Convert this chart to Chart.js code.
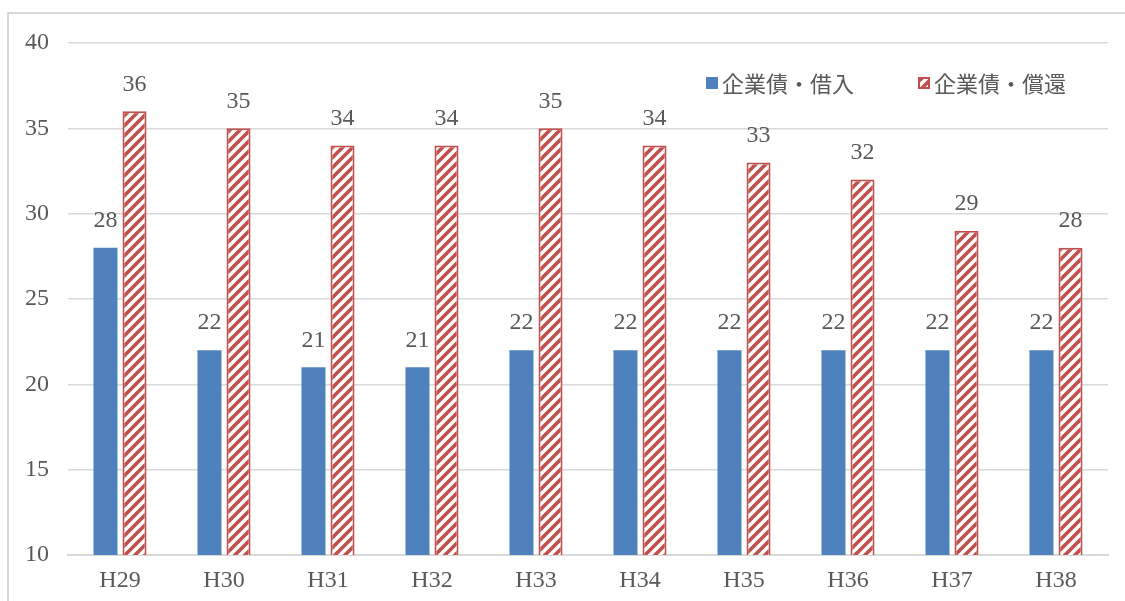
<!DOCTYPE html>
<html><head><meta charset="utf-8">
<script src="https://cdn.jsdelivr.net/npm/chart.js@4.4.1/dist/chart.umd.min.js"></script>
<style>
html,body{margin:0;padding:0;background:#fff;overflow:hidden}
#wrap{position:relative;width:1125px;height:601px}
#frame{position:absolute;left:7px;top:12px;width:1200px;height:700px;border-left:2px solid #d9d9d9;border-top:2px solid #d9d9d9;box-sizing:border-box}
canvas{position:absolute;left:0;top:0}
</style></head>
<body><div id="wrap"><div id="frame"></div><canvas id="c" width="1125" height="601"></canvas></div>
<script>
const categories = ['H29','H30','H31','H32','H33','H34','H35','H36','H37','H38'];
const borrowValues = [28,22,21,21,22,22,22,22,22,22];
const repayValues = [36,35,34,34,35,34,33,32,29,28];
const seriesLabels = ['企業債・借入','企業債・償還'];
const yTicks = [10,15,20,25,30,35,40];

const BLUE = '#4F81BD', RED = '#C0504D', TXT = '#595959', GRID = '#d9d9d9';
const NUMFONT = '"Liberation Serif", "DejaVu Serif", serif';
const JPFONT = '"Noto Sans CJK JP", sans-serif';

function makePattern(){
  const t = document.createElement('canvas'); t.width = 10; t.height = 10;
  const g = t.getContext('2d');
  g.fillStyle = '#fff'; g.fillRect(0,0,10,10);
  g.strokeStyle = RED; g.lineWidth = 3.6;
  g.beginPath();
  g.moveTo(-2,12); g.lineTo(12,-2);
  g.moveTo(-7,7); g.lineTo(7,-7);
  g.moveTo(3,17); g.lineTo(17,3);
  g.stroke();
  return g.createPattern(t,'repeat');
}
const ctx = document.getElementById('c').getContext('2d');
const pattern = makePattern();

const labelPlugin = {
  id:'vals',
  afterDatasetsDraw(chart){
    const c = chart.ctx;
    c.save();
    c.font = '24px ' + NUMFONT; c.fillStyle = TXT; c.textAlign = 'center'; c.textBaseline = 'middle';
    chart.data.datasets.forEach((ds,i)=>{
      chart.getDatasetMeta(i).data.forEach((bar,j)=>{
        c.fillText(String(ds.data[j]), bar.x, bar.y - 27);
      });
    });
    c.restore();
  }
};
const legendPlugin = {
  id:'mylegend',
  afterDraw(chart){
    const c = chart.ctx;
    c.save();
    c.font = '22px ' + JPFONT; c.fillStyle = TXT; c.textBaseline = 'middle'; c.textAlign = 'left';
    const yc = 83;
    const items = [{x:706, fill:BLUE, border:null},{x:918, fill:pattern, border:RED}];
    items.forEach((it,i)=>{
      c.fillStyle = it.fill; c.fillRect(it.x, yc-6, 12, 12);
      if(it.border){ c.strokeStyle = it.border; c.lineWidth = 2; c.strokeRect(it.x+1, yc-5, 10, 10); }
      c.fillStyle = TXT;
      c.fillText(chart.data.datasets[i].label, it.x + 16, yc + 1);
    });
    c.restore();
  }
};

new Chart(ctx, {
  type:'bar',
  data:{
    labels: categories,
    datasets:[
      {label: seriesLabels[0], data: borrowValues, backgroundColor: BLUE, borderWidth:0},
      {label: seriesLabels[1], data: repayValues, backgroundColor: pattern, borderColor: RED, borderWidth: 2}
    ]
  },
  options:{
    responsive:false, animation:false,
    layout:{padding:{left:0,right:17,top:43,bottom:0}},
    datasets:{bar:{categoryPercentage:0.558, barPercentage:0.828}},
    plugins:{legend:{display:false}, tooltip:{enabled:false}},
    scales:{
      x:{
        grid:{display:false, drawTicks:false},
        border:{display:true, color:GRID, width:2},
        ticks:{color:TXT, font:{family:NUMFONT, size:24}, padding:11},
        afterFit(s){ s.height = 46; }
      },
      y:{
        min:10, max:40,
        afterBuildTicks(s){ s.ticks = yTicks.map(v=>({value:v})); },
        grid:{color:GRID, lineWidth:1.5, drawTicks:false},
        border:{display:false},
        ticks:{color:TXT, font:{family:NUMFONT, size:24}, padding:19},
        afterFit(s){ s.width = 68; }
      }
    }
  },
  plugins:[labelPlugin, legendPlugin]
});
</script></body></html>
